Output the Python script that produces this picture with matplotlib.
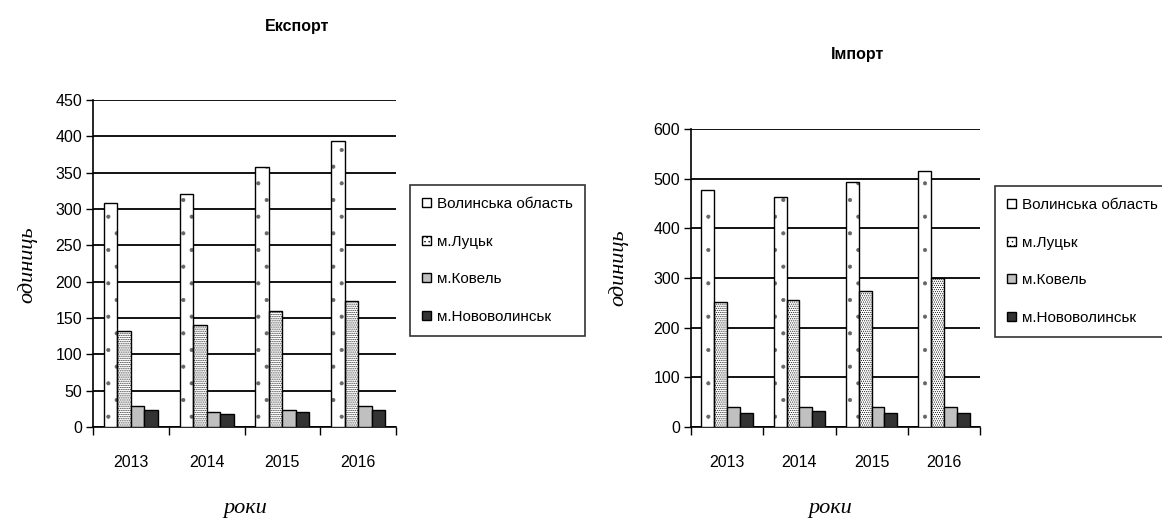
import numpy as np
import matplotlib
matplotlib.use("Agg")
import matplotlib.pyplot as plt

# --- data ---
years = ["2013", "2014", "2015", "2016"]
series_names = ["Волинська область", "м.Луцьк", "м.Ковель", "м.Нововолинськ"]

export_volyn = [308, 320, 358, 394]
export_lutsk = [132, 140, 159, 173]
export_kovel = [29, 21, 23, 29]
export_novovol = [24, 18, 21, 24]

import_volyn = [478, 464, 493, 515]
import_lutsk = [251, 255, 273, 299]
import_kovel = [41, 41, 41, 41]
import_novovol = [29, 33, 29, 29]

plt.rcParams["font.family"] = ["Liberation Sans", "DejaVu Sans"]
plt.rcParams["hatch.linewidth"] = 0.5
fs = 11.5

fills = ["white", "white", "#c0c0c0", "#333333"]
hatches = [".", "........", None, None]
hatch_cols = ["#666666", "#111111", None, None]
legend_hatch = [None, "....", None, None]

fig = plt.figure(figsize=(11.62, 5.24), dpi=100)
W, H = 1162, 524


def px_axes(x0, y0, x1, y1):
    return fig.add_axes([x0 / W, 1 - y1 / H, (x1 - x0) / W, (y1 - y0) / H])


def draw(ax, data, ymax, step, title, title_xy, legend_xy):
    x = np.arange(len(years))
    bw = 0.178
    for i, vals in enumerate(data):
        pos = x - 1.5 * bw + i * bw
        if hatches[i]:
            # hatch in its own colour, outline drawn on top
            ax.bar(pos, vals, width=bw, color=fills[i], edgecolor=hatch_cols[i],
                   linewidth=0, hatch=hatches[i], zorder=3)
        ax.bar(pos, vals, width=bw, color="none" if hatches[i] else fills[i],
               edgecolor="black", linewidth=1.0, zorder=4)
        # proxy for the legend
        ax.bar(pos, [0] * len(vals), width=0, color=fills[i], edgecolor="black",
               linewidth=1.0, hatch=legend_hatch[i], label=series_names[i])
    ax.set_xlim(-0.5, len(years) - 0.5)
    ax.set_ylim(0, ymax)
    ax.set_yticks(np.arange(0, ymax + 1, step))
    ax.yaxis.grid(True, color="black", linewidth=1.3, zorder=0)
    ax.set_axisbelow(True)
    ax.set_xticks(x)
    ax.set_xticklabels(years)
    ax.set_xticks(np.arange(-0.5, len(years)), minor=True)
    ax.tick_params(axis="x", which="major", length=0, pad=20, labelsize=fs)
    ax.tick_params(axis="x", which="minor", length=6, width=1, direction="out")
    ax.tick_params(axis="y", length=5, width=1, labelsize=fs, pad=3)
    for s in ["top", "right"]:
        ax.spines[s].set_visible(False)
    for s in ["left", "bottom"]:
        ax.spines[s].set_linewidth(1.2)
    fig.text(title_xy[0] / W, 1 - title_xy[1] / H, title, ha="center", va="center",
             fontsize=fs, fontweight="bold")
    handles, labels = ax.get_legend_handles_labels()
    leg = ax.legend(handles, labels, loc="upper left",
                    bbox_to_anchor=(legend_xy[0] / W, 1 - legend_xy[1] / H),
                    bbox_transform=fig.transFigure, frameon=True, fancybox=False,
                    edgecolor="black", fontsize=11, handlelength=0.55, handleheight=0.55,
                    handletextpad=0.4, labelspacing=1.54, borderpad=0.8, borderaxespad=0)
    leg.get_frame().set_linewidth(1.2)


ax1 = px_axes(93, 100, 396, 427)
draw(ax1, [export_volyn, export_lutsk, export_kovel, export_novovol], 450, 50,
     "Експорт", (297, 27), (410, 185))
ax2 = px_axes(691, 129, 980, 427)
draw(ax2, [import_volyn, import_lutsk, import_kovel, import_novovol], 600, 100,
     "Імпорт", (858, 55), (995, 186))

serif = dict(family="Liberation Serif", style="italic", fontsize=16)
fig.text(27 / W, 1 - 265 / H, "одиниць", rotation=90, ha="center", va="center", **serif)
fig.text(618 / W, 1 - 268 / H, "одиниць", rotation=90, ha="center", va="center", **serif)
fig.text(245 / W, 1 - 508 / H, "роки", ha="center", va="center", **serif)
fig.text(830 / W, 1 - 508 / H, "роки", ha="center", va="center", **serif)

fig.savefig("out.png", dpi=100)
